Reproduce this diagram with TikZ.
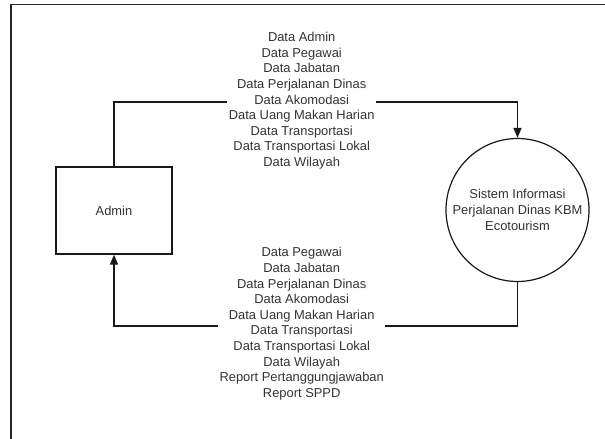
\documentclass[tikz,border=0pt]{standalone}
\usepackage{fontspec}
\setmainfont{Liberation Sans}
\usetikzlibrary{arrows.meta}
\definecolor{txt}{HTML}{333333}
\tikzset{
  flow/.style={line width=1.4pt, draw=black!90},
  arr/.style={flow, -{Triangle[length=10pt,width=8pt]}},
  lbl/.style={fill=white, inner sep=1.5pt, align=center, text=txt,
              font=\fontsize{12.9}{15.6}\selectfont},
  entity/.style={draw=black!90, line width=1.4pt, minimum width=116pt, minimum height=87pt,
              inner sep=0pt, text=txt, font=\fontsize{12.9}{15.6}\selectfont},
  proc/.style={draw=black!90, line width=1.2pt, circle, minimum size=143pt, inner sep=0pt,
              align=center, text=txt, font=\fontsize{12.9}{15.9}\selectfont}
}
\begin{document}
\begin{tikzpicture}[x=1pt,y=-1pt]
\useasboundingbox (0,0) rectangle (605,439);
\fill[white] (0,0) rectangle (605,439);
\draw[line width=1.4pt, draw=black!85] (11,439) -- (11,4.7) -- (605,4.7);

\node[entity] (admin) at (114,210.5) {Admin};
\node[proc] (sys) at (517.5,210) {Sistem Informasi\\Perjalanan Dinas KBM\\Ecotourism};

\coordinate (ctop) at (300,102);
\coordinate (cbot) at (300,326);

\draw[arr] (admin.north) -- (admin.north |- ctop) -- (sys.north |- ctop) -- (sys.north);
\draw[arr] (sys.south) -- (sys.south |- cbot) -- (admin.south |- cbot) -- (admin.south);

\node[lbl] (dtop) at (301.7,100.8) {Data Admin\\Data Pegawai\\Data Jabatan\\Data Perjalanan Dinas\\Data Akomodasi\\Data Uang Makan Harian\\Data Transportasi\\Data Transportasi Lokal\\Data Wilayah};
\node[lbl] (dbot) at (301.7,323.7) {Data Pegawai\\Data Jabatan\\Data Perjalanan Dinas\\Data Akomodasi\\Data Uang Makan Harian\\Data Transportasi\\Data Transportasi Lokal\\Data Wilayah\\Report Pertanggungjawaban\\Report SPPD};
\end{tikzpicture}
\end{document}
